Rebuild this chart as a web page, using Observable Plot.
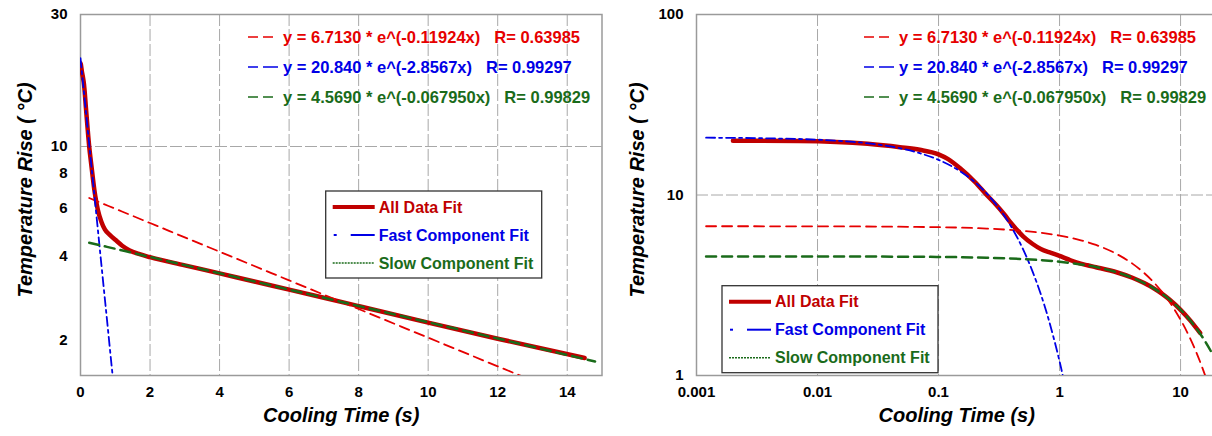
<!DOCTYPE html>
<html><head><meta charset="utf-8">
<script src="https://cdn.jsdelivr.net/npm/d3@7"></script>
<script src="https://cdn.jsdelivr.net/npm/@observablehq/plot@0.6"></script>
<style>
html,body{margin:0;padding:0;background:#fff;overflow:hidden;width:1212px;height:436px;}
#wrap{position:relative;width:1212px;height:436px;overflow:hidden;}
#left,#right{position:absolute;top:0;}
#left{left:0;width:606px;}
#right{left:606px;width:611px;}
</style></head><body><div id="wrap"><div id="left"></div><div id="right"></div></div>
<script>
// ---- data ----
// measured cooling curve ("All Data Fit")
const allTime = [0, 0.002, 0.007, 0.026, 0.048, 0.07, 0.1, 0.12, 0.15, 0.2, 0.25, 0.3, 0.35, 0.4, 0.45, 0.5, 0.6, 0.7, 0.85, 1.0, 1.2, 1.4, 1.7, 2, 3, 4, 5, 6, 7, 8, 10, 12, 14.5];
const allTemp = [20.0, 20.0, 19.9, 19.2, 18.4, 17.8, 16.8, 15.8, 14.1, 11.8, 10.0, 8.8, 7.8, 6.95, 6.35, 5.9, 5.35, 5.02, 4.78, 4.6, 4.38, 4.22, 4.08, 3.98, 3.72, 3.48, 3.25, 3.04, 2.84, 2.65, 2.31, 2.02, 1.72];
// fast component fit
const fastTime = [0, 0.0012, 0.005, 0.01, 0.02, 0.03, 0.05, 0.07, 0.1, 0.15, 0.2, 0.25, 0.3, 0.4, 0.5, 0.6, 0.7, 0.8, 0.9, 1.0, 1.1];
const fastTemp = [20.84, 20.77, 20.54, 20.25, 19.67, 19.11, 18.05, 17.04, 15.66, 13.58, 11.77, 10.20, 8.84, 6.65, 5.00, 3.75, 2.82, 2.12, 1.59, 1.20, 0.90];
// single exponential fit (red dashed)
const singleTime = [0.0012, 0.01, 0.1, 0.25, 0.5, 1, 1.5, 2, 3, 4, 5, 6, 7, 8, 10, 12, 13, 14, 16, 18, 20];
const singleTemp = [6.712, 6.705, 6.633, 6.516, 6.324, 5.958, 5.613, 5.289, 4.694, 4.167, 3.698, 3.283, 2.913, 2.586, 2.037, 1.605, 1.425, 1.265, 0.996, 0.785, 0.618];
// slow component fit
const slowTime = [0.0012, 0.01, 0.1, 0.25, 0.5, 1, 1.5, 2, 3, 4, 5, 6, 7, 8, 10, 12, 14, 14.8, 16, 18, 20];
const slowTemp = [4.569, 4.566, 4.538, 4.492, 4.416, 4.269, 4.126, 3.988, 3.726, 3.482, 3.253, 3.039, 2.840, 2.653, 2.316, 2.022, 1.765, 1.671, 1.541, 1.345, 1.175];

const equations = ["y = 6.7130 * e^(-0.11924x)", "y = 20.840 * e^(-2.8567x)", "y = 4.5690 * e^(-0.067950x)"];
const rValues = ["R= 0.63985", "R= 0.99297", "R= 0.99829"];
const legendNames = ["All Data Fit", "Fast Component Fit", "Slow Component Fit"];

const leftXTicks = [0, 2, 4, 6, 8, 10, 12, 14];
const leftYTicks = [2, 4, 6, 8, 10, 30];
const rightXTicks = [0.001, 0.01, 0.1, 1, 10];
const rightYTicks = [1, 10, 100];

const xTitle = "Cooling Time (s)";
const yTitle = "Temperature Rise ( °C)";

// ---- styling ----
const C = {all: "#c00000", single: "#e60000", fast: "#0000e6", slow: "#1a6b1a", grid: "#a8a8a8", frame: "#9a9a9a"};
const FONT = "'Liberation Sans', Arial, Helvetica, sans-serif";

const zip = (ts, vs) => ts.map((t, i) => ({t, v: vs[i]}));
const allData = zip(allTime, allTemp);
const fastData = zip(fastTime, fastTemp);
const singleData = zip(singleTime, singleTemp);
const slowData = zip(slowTime, slowTemp);

function panel(o) {
  const svg = Plot.plot({
    width: o.width, height: 436,
    marginLeft: o.ml, marginTop: 14, marginRight: o.mr, marginBottom: 61,
    style: {fontFamily: FONT, fontSize: "15px", fontWeight: "bold", color: "#000", background: "transparent", overflow: "visible"},
    x: {type: o.xType, domain: o.xDomain},
    y: {type: "log", domain: o.yDomain},
    marks: [
      Plot.ruleX(o.xGrid, {stroke: C.grid, strokeWidth: 1, strokeDasharray: "12,3"}),
      Plot.ruleY([10], {stroke: C.grid, strokeWidth: 1, strokeDasharray: "12,3"}),
      Plot.frame({stroke: C.frame, strokeWidth: 1.5}),
      Plot.axisX(o.xTicks, {tickSize: 0, tickPadding: 11, tickFormat: d => String(d), label: null}),
      Plot.axisY(o.yTicks, {tickSize: 0, tickPadding: 13, tickFormat: d => String(d), label: null}),
      Plot.line(o.all, {x: "t", y: "v", stroke: C.all, strokeWidth: 4.5, curve: "monotone-x", clip: true}),
      Plot.line(o.single, {x: "t", y: "v", stroke: C.single, strokeWidth: 1.8, strokeDasharray: "10,6", curve: "monotone-x", clip: true}),
      Plot.line(o.fast, {x: "t", y: "v", stroke: C.fast, strokeWidth: 1.8, strokeDasharray: "9,4,3,4", curve: "monotone-x", clip: true}),
      Plot.line(o.slow, {x: "t", y: "v", stroke: C.slow, strokeWidth: 2.5, strokeDasharray: "10,6", curve: "monotone-x", clip: true}),
      Plot.text([yTitle], {text: d => d, frameAnchor: "left", textAnchor: "middle", rotate: -90, dx: o.yTitleDx, dy: -5, fontSize: 20, fontWeight: "bold", fontStyle: "italic", fill: "#000"}),
      Plot.text([xTitle], {text: d => d, frameAnchor: "bottom", textAnchor: "middle", dy: 46, fontSize: 20, fontWeight: "bold", fontStyle: "italic", fill: "#000"})
    ]
  });
  const g = d3.select(svg).append("g").attr("transform", `translate(${o.ml},14)`).attr("text-anchor", "start");
  const eqColors = [C.single, C.fast, C.slow];
  equations.forEach((eq, i) => {
    const cy = 23 + 30 * i;
    g.append("line").attr("x1", 168).attr("x2", 198).attr("y1", cy).attr("y2", cy)
      .attr("stroke", eqColors[i]).attr("stroke-width", 1.5).attr("stroke-dasharray", i === 1 ? "10,5,16" : "10,5");
    const t = g.append("text").attr("x", 203).attr("y", cy).attr("dy", "0.36em").attr("text-anchor", "start")
      .attr("fill", eqColors[i]).style("font-size", "16.5px").style("font-weight", "bold").style("font-family", FONT);
    t.append("tspan").text(eq);
    t.append("tspan").attr("dx", 14).text(rValues[i]);
  });
  const b = g.append("g").attr("transform", `translate(${o.bx},${o.by})`);
  b.append("rect").attr("width", 216).attr("height", 87).attr("fill", "#fff").attr("stroke", "#333").attr("stroke-width", 1.3);
  const lc = [C.all, C.fast, C.slow];
  legendNames.forEach((name, i) => {
    const cy = 16 + 28 * i;
    if (i === 0) {
      b.append("line").attr("x1", 7).attr("x2", 49).attr("y1", cy).attr("y2", cy).attr("stroke", C.all).attr("stroke-width", 4);
    } else if (i === 1) {
      b.append("line").attr("x1", 8).attr("x2", 11).attr("y1", cy).attr("y2", cy).attr("stroke", C.fast).attr("stroke-width", 2);
      b.append("line").attr("x1", 25).attr("x2", 49).attr("y1", cy).attr("y2", cy).attr("stroke", C.fast).attr("stroke-width", 2);
    } else {
      b.append("line").attr("x1", 7).attr("x2", 49).attr("y1", cy).attr("y2", cy).attr("stroke", C.slow).attr("stroke-width", 1.6).attr("stroke-dasharray", "2,1");
    }
    b.append("text").attr("x", 53).attr("y", cy).attr("dy", "0.36em").attr("text-anchor", "start").attr("fill", lc[i])
      .style("font-size", "16px").style("font-weight", "bold").style("font-family", FONT).text(name);
  });
  return svg;
}

document.getElementById("left").appendChild(panel({
  width: 606, ml: 80, mr: 4.5, xType: "linear", xDomain: [0, 15], yDomain: [1.487, 30],
  xGrid: leftXTicks.filter(d => d > 0), xTicks: leftXTicks, yTicks: leftYTicks,
  all: allData,
  single: singleData.filter(d => d.t >= 0.25),
  fast: fastData.filter(d => d.t === 0 || d.t >= 0.005),
  slow: slowData.filter(d => d.t >= 0.25 && d.t <= 14.8),
  yTitleDx: -55, bx: 245.7, by: 177
}));
document.getElementById("right").appendChild(panel({
  width: 611, ml: 90, mr: 0.5, xType: "log", xDomain: [0.001, 20], yDomain: [1, 100],
  xGrid: rightXTicks.filter(d => d > 0.001), xTicks: rightXTicks, yTicks: rightYTicks,
  all: allData.filter(d => d.t > 0),
  single: singleData,
  fast: fastData.filter(d => d.t > 0),
  slow: slowData,
  yTitleDx: -59, bx: 26, by: 271.7
}));
</script></body></html>
